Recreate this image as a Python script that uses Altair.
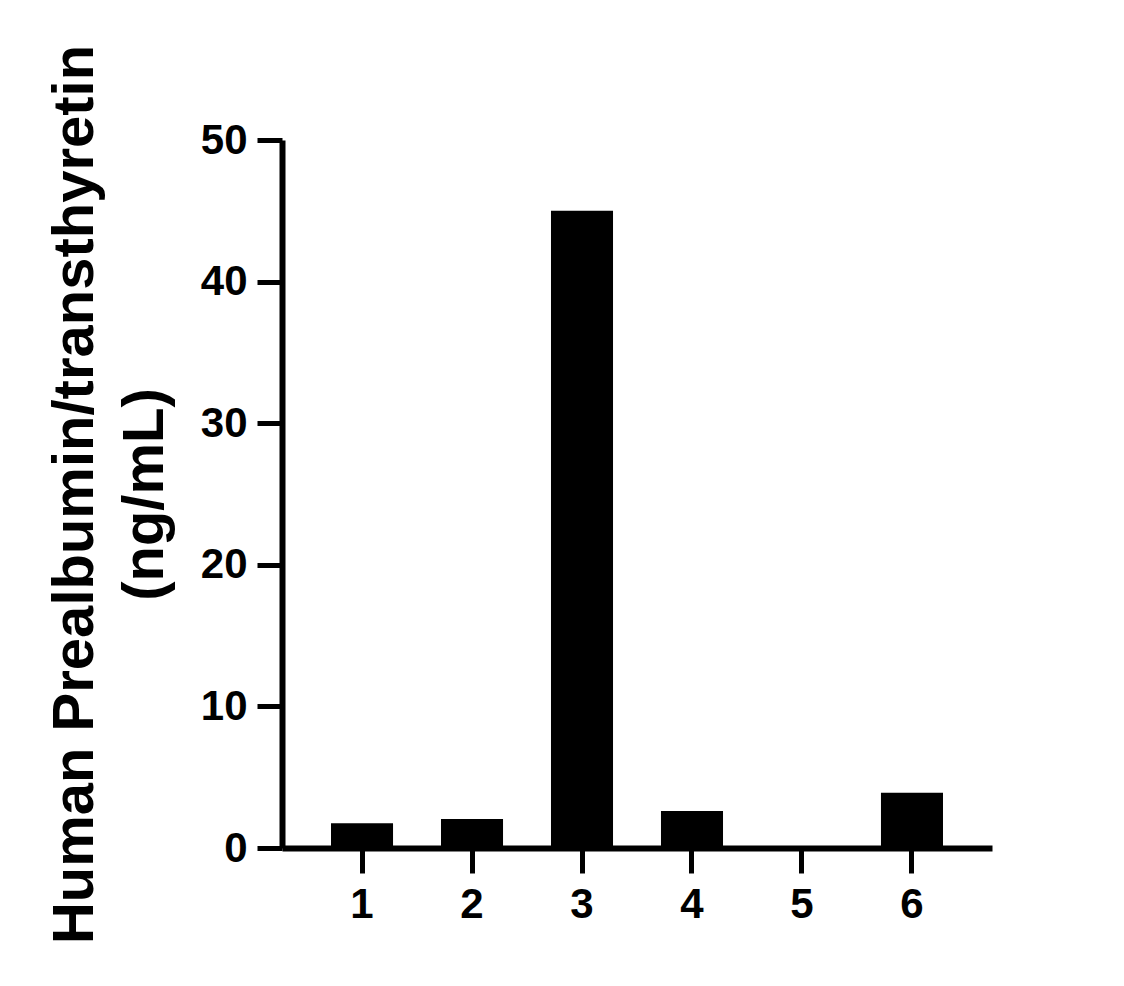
import altair as alt
import pandas as pd

categories = ["1", "2", "3", "4", "5", "6"]
values = [1.74, 2.05, 45.0, 2.61, 0.0, 3.91]
y_ticks = [0, 10, 20, 30, 40, 50]
y_title = ["Human Prealbumin/transthyretin", "(ng/mL)"]

df = pd.DataFrame({"sample": categories, "value": values})

FONT = "Liberation Sans"

chart = alt.Chart(df).mark_bar(color="black").encode(
    x=alt.X(
        "sample:N",
        sort=categories,
        scale=alt.Scale(paddingInner=0.436, paddingOuter=0.4455),
        axis=alt.Axis(
            title=None,
            labelAngle=0,
            labelFont=FONT,
            labelFontSize=42,
            labelFontWeight="bold",
            labelColor="black",
            labelPadding=11,
            tickSize=25,
            tickWidth=5,
            tickColor="black",
            domainColor="black",
            domainWidth=6,
        ),
    ),
    y=alt.Y(
        "value:Q",
        scale=alt.Scale(domain=[0, 50], nice=False),
        axis=alt.Axis(
            values=y_ticks,
            title=y_title,
            titleFont=FONT,
            titleFontSize=58,
            titleFontWeight="bold",
            titleColor="black",
            titleLineHeight=70,
            titleAngle=-90,
            titleAlign="center",
            titleBaseline="alphabetic",
            titleX=-190,
            titleY=354,
            labelFont=FONT,
            labelFontSize=42,
            labelFontWeight="bold",
            labelColor="black",
            labelPadding=10,
            tickSize=25,
            tickWidth=5,
            tickColor="black",
            domainColor="black",
            domainWidth=6,
            grid=False,
        ),
    ),
).properties(
    width=710,
    height=708,
    autosize=alt.AutoSizeParams(type="none"),
    padding={"left": 274, "top": 132, "right": 123, "bottom": 120},
    background="white",
).configure_view(stroke=None, strokeWidth=0)

chart.save("out.html", embed_options={"renderer": "svg", "actions": False})
